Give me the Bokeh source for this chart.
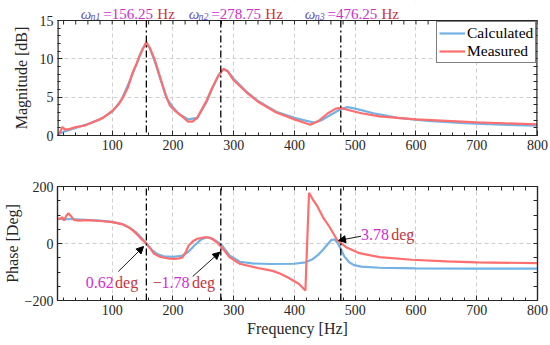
import math
from bokeh.plotting import figure
from bokeh.layouts import column
from bokeh.models import (Range1d, FixedTicker, LinearAxis, Label, Arrow, NormalHead, BoxAnnotation)
from bokeh.embed import file_html
from bokeh.resources import INLINE

# ---------------- data ----------------
mag_f_calc = [10, 20, 40, 60, 80, 100, 115, 130, 140, 150, 156, 162, 170, 180, 190, 200, 210, 225, 240,
              255, 265, 275, 283, 290, 300, 320, 340, 370, 400, 420, 432, 445, 460, 475, 487, 500, 530,
              570, 620, 680, 740, 800]
mag_calc = [0.1, 0.5, 1.0, 1.5, 2.1, 3.1, 4.6, 7.3, 9.3, 11.3, 12.0, 11.4, 9.7, 7.2, 4.8, 3.7, 2.8, 2.1, 2.3,
            4.3, 6.2, 7.9, 8.6, 8.4, 7.4, 5.8, 4.5, 3.1, 2.3, 1.9, 1.7, 2.0, 2.7, 3.4, 3.7, 3.5, 2.9,
            2.3, 1.9, 1.6, 1.4, 1.3]

mag_f_meas = [10, 14, 18, 22, 28, 40, 55, 70, 85, 100, 110, 118, 126, 134, 140, 145, 150, 156, 162, 170,
              180, 188, 195, 205, 215, 225, 232, 240, 255, 265, 275, 283, 290, 300, 320, 340, 370, 400,
              415, 426, 440, 455, 468, 476, 490, 510, 540, 600, 700, 800]
mag_meas = [0.0, 0.4, 1.1, 0.8, 0.8, 1.1, 1.3, 1.8, 2.3, 3.2, 4.0, 5.0, 6.3, 8.3, 9.3, 10.4, 11.2, 12.2, 11.4, 9.9,
            7.3, 5.3, 3.9, 3.1, 2.5, 1.8, 1.8, 2.3, 4.5, 6.3, 7.8, 8.7, 8.4, 7.2, 5.7, 4.4, 3.0, 2.1,
            1.7, 1.4, 1.9, 2.9, 3.5, 3.6, 3.3, 2.9, 2.5, 2.1, 1.7, 1.45]

ph_f_calc = [10, 40, 80, 100, 115, 130, 140, 148, 156, 165, 175, 185, 200, 215, 225, 235, 245, 255, 265,
             272, 279, 286, 293, 310, 330, 360, 400, 418, 430, 440, 447, 455, 461, 466, 471, 476, 482,
             490, 498, 510, 540, 600, 700, 800]
ph_calc = [86, 85, 80, 76, 69, 54, 38, 20, 0.6, -22, -38, -45, -47, -43, -30, -8, 12, 22, 17,
           7, -2, -22, -42, -64, -70, -72, -71, -66, -55, -38, -22, -2, 13, 14, 2, -18, -45,
           -66, -76, -81, -85, -87, -88, -88]

ph_f_meas = [10, 15, 18, 21, 24, 28, 31, 37, 45, 60, 80, 100, 118, 126, 134, 141, 148, 156, 163, 169,
             177, 185, 195, 202, 210, 215, 220, 226, 233, 240, 252, 260, 266, 273, 280, 286, 293, 310,
             340, 364, 377, 390, 407, 418, 424, 430, 437, 447, 458, 470, 485, 507, 540, 593, 650, 700, 800]
ph_meas = [86, 88, 92, 80, 96, 106, 99, 83, 80, 82, 79, 75, 67, 58, 46, 32, 16, 0.6, -18, -36,
           -45, -50, -53, -54, -52, -50, -35, -7, 8, 16.5, 22, 21, 14, 3, -13, -28, -48, -71,
           -86, -96, -106, -120, -141, -165, 178, 155, 133, 92, 57, 13, -13, -34, -48, -57, -63, -66, -69]

res_freqs = [156.25, 278.75, 476.25]
res_labels = ["156.25", "278.75", "476.25"]
res_subs = ["n1", "n2", "n3"]
phase_vals = ["0.62", "1.78", "3.78"]

x_lim = (10, 800)
mag_lim = (0, 15)
ph_lim = (-200, 200)
x_major = [100, 200, 300, 400, 500, 600, 700, 800]
x_minor = list(range(20, 801, 20))
mag_major = [0, 5, 10, 15]
mag_minor = list(range(0, 16))
ph_major = [-200, 0, 200]
ph_minor = list(range(-200, 201, 50))

# ---------------- style ----------------
SERIF = "Liberation Serif"
AX = "#262626"
BLUE = "#72b2e4"
RED = "#ff6e6e"
GRID = "#cfcfcf"
PURP = "#6650c8"
MAG = "#d22cd2"
DRED = "#c8323c"

W = 550
ML, MR = 48, 13
MAG_PX = 115.0 / 15.0          # pixels per dB in the magnitude panel

# reference-frame helpers (position annotations relative to data)
def fx(px):
    return 10 + (px - 48) * 790.0 / 489.0

def ym(py):
    return (135 - py) / MAG_PX

def yp(py):
    return (243 - py) * 400.0 / 114.0


def style_axis(ax, t, m, tick_in=5, minor_in=3):
    ax.ticker = FixedTicker(ticks=t, minor_ticks=m)
    ax.axis_line_color = AX
    ax.axis_line_width = 1.2
    ax.major_tick_line_color = AX
    ax.minor_tick_line_color = AX
    ax.major_tick_in = tick_in
    ax.major_tick_out = 0
    ax.minor_tick_in = minor_in
    ax.minor_tick_out = 0
    ax.major_label_text_font = SERIF
    ax.major_label_text_font_size = "14px"
    ax.major_label_text_color = AX
    ax.major_label_standoff = 4


def tick_only_axis(t, m):
    ax = LinearAxis(ticker=FixedTicker(ticks=[], minor_ticks=sorted(set(t + m))))
    ax.axis_line_color = AX
    ax.axis_line_width = 1.2
    ax.minor_tick_line_color = AX
    ax.minor_tick_in = 4
    ax.minor_tick_out = 0
    ax.major_tick_in = 0
    ax.major_tick_out = 0
    ax.major_label_standoff = 0
    return ax


def grid_style(p):
    p.xgrid.grid_line_color = GRID
    p.xgrid.grid_line_dash = "4 3"
    p.ygrid.grid_line_color = GRID
    p.ygrid.grid_line_dash = "4 3"


# ---------------- top: magnitude (frame reaches up to hold the resonance titles) ----------------
top = figure(width=W, height=160, x_range=Range1d(*x_lim), y_range=Range1d(mag_lim[0], ym(0)),
             output_backend="svg", toolbar_location=None,
             min_border_left=ML, min_border_right=MR, min_border_top=0, min_border_bottom=25)
top.background_fill_color = "white"
top.border_fill_color = "white"
top.outline_line_color = None
grid_style(top)
style_axis(top.xaxis[0], x_major, x_minor)
style_axis(top.yaxis[0], mag_major, mag_minor)
top.yaxis[0].axis_line_color = None
rax = tick_only_axis(mag_major, mag_minor)
rax.axis_line_color = None
top.add_layout(rax, "right")

top.line(mag_f_calc, mag_calc, line_color=BLUE, line_width=2.2, legend_label="Calculated")
top.line(mag_f_meas, mag_meas, line_color=RED, line_width=2.2, legend_label="Measured")

# box edges of the magnitude axes (left, right, top) and the mirrored top ticks
top.segment(x0=[x_lim[0], x_lim[1]], y0=[mag_lim[0]] * 2, x1=[x_lim[0], x_lim[1]], y1=[mag_lim[1]] * 2,
            line_color=AX, line_width=2.4)
top.segment(x0=[x_lim[0]], y0=[mag_lim[1]], x1=[x_lim[1]], y1=[mag_lim[1]], line_color=AX, line_width=1.2)
tt = sorted(set(x_major + x_minor))
top.segment(x0=tt, y0=[mag_lim[1]] * len(tt), x1=tt, y1=[mag_lim[1] - 4 / MAG_PX] * len(tt),
            line_color=AX, line_width=1)

# white band above the axes box (hides grid there)
top.add_layout(BoxAnnotation(bottom=mag_lim[1] + 0.7 / MAG_PX, fill_color="white", fill_alpha=1,
                             line_color=None))

leg = top.legend[0]
leg.location = (379, 72)
leg.padding = 2
leg.spacing = 0
leg.label_text_font = SERIF
leg.label_text_font_size = "15.5px"
leg.label_text_color = "black"
leg.label_height = 16
leg.glyph_height = 16
leg.glyph_width = 26
leg.label_standoff = 2
leg.border_line_color = "black"
leg.border_line_width = 1
leg.background_fill_alpha = 1

# dash-dot resonance lines, continued through the gap below the frame
for f in res_freqs:
    top.add_layout(Arrow(end=None, x_start=f, y_start=mag_lim[1], x_end=f, y_end=-6,
                         line_color="black", line_width=1.3, line_dash="7 3 2 3"), "below")

# multi-coloured resonance titles
for s, sub, lab in zip([71.7, 181.7, 300.0], res_subs, res_labels):
    yc = ym(13)
    top.add_layout(Label(x=fx(s), y=yc, text="ω", text_font=SERIF, text_font_style="italic",
                         text_font_size="15px", text_color=PURP, text_baseline="middle"))
    top.add_layout(Label(x=fx(s + 10), y=ym(16), text=sub, text_font=SERIF, text_font_style="italic",
                         text_font_size="10px", text_color=PURP, text_baseline="middle"))
    top.add_layout(Label(x=fx(s + 23), y=yc, text="=" + lab, text_font=SERIF,
                         text_font_size="15px", text_color=MAG, text_baseline="middle"))
    top.add_layout(Label(x=fx(s + 78), y=yc, text="Hz", text_font=SERIF,
                         text_font_size="15px", text_color=DRED, text_baseline="middle"))

# y label placed in the left border panel
top.add_layout(Label(x=fx(11), y=sum(mag_lim) / 2, text="Magnitude [dB]", angle=math.pi / 2,
                     text_font=SERIF, text_font_size="16px", text_color=AX,
                     text_align="center", text_baseline="middle"), "left")

# ---------------- bottom: phase ----------------
bot = figure(width=W, height=185, x_range=top.x_range, y_range=Range1d(*ph_lim),
             output_backend="svg", toolbar_location=None,
             min_border_left=ML, min_border_right=MR, min_border_top=26, min_border_bottom=45)
bot.background_fill_color = "white"
bot.border_fill_color = "white"
bot.outline_line_color = AX
bot.outline_line_width = 1.2
grid_style(bot)
style_axis(bot.xaxis[0], x_major, x_minor)
style_axis(bot.yaxis[0], ph_major, ph_minor)
for ax, text, so in ((bot.xaxis[0], "Frequency [Hz]", 2), (bot.yaxis[0], "Phase [Deg]", 1)):
    ax.axis_label = text
    ax.axis_label_standoff = so
    ax.axis_label_text_font = SERIF
    ax.axis_label_text_font_size = "16px"
    ax.axis_label_text_font_style = "normal"
    ax.axis_label_text_color = AX
bot.add_layout(tick_only_axis(x_major, x_minor), "above")
bot.add_layout(tick_only_axis(ph_major, ph_minor), "right")

bot.line(ph_f_calc, ph_calc, line_color=BLUE, line_width=2.2)
bot.line(ph_f_meas, ph_meas, line_color=RED, line_width=2.2)

for f in res_freqs:
    bot.add_layout(Arrow(end=None, x_start=f, y_start=ph_lim[0], x_end=f, y_end=330,
                         line_color="black", line_width=1.3, line_dash="7 3 2 3"), "above")

arrows = [((110, 271), (135.7, 246)), ((185.7, 276), (213.3, 251.7)), ((357.3, 235.7), (334.3, 240))]
for (sx, sy), (ex, ey) in arrows:
    bot.add_layout(Arrow(end=NormalHead(size=7, fill_color="black", line_color="black"),
                         x_start=fx(sx), y_start=yp(sy), x_end=fx(ex), y_end=yp(ey),
                         line_color="black", line_width=0.9))

def ann(px, py, text, color):
    bot.add_layout(Label(x=fx(px), y=yp(py), text=text, text_font=SERIF, text_font_size="16px",
                         text_color=color, text_baseline="middle"))

ann(76.7, 281.7, phase_vals[0], MAG)
ann(106.7, 281.7, "deg", DRED)
ann(145, 281.7, "−", DRED)
ann(154, 281.7, phase_vals[1], MAG)
ann(185, 281.7, "deg", DRED)
ann(357.3, 234, phase_vals[2], MAG)
ann(388, 234, "deg", DRED)

layout = column(top, bot, spacing=0)
open("out.html", "w").write(file_html(layout, INLINE))
